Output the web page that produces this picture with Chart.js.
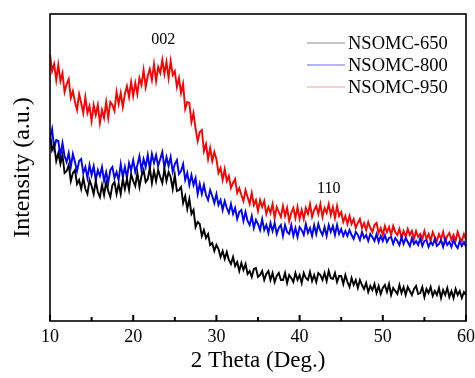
<!DOCTYPE html>
<html>
<head>
<meta charset="utf-8">
<script src="https://cdn.jsdelivr.net/npm/chart.js@4.4.0/dist/chart.umd.min.js"></script>
<style>
  body { margin: 0; background: #fff; }
  #chartWrapper { width: 475px; height: 378px; }
</style>
</head>
<body>
<div id="chartWrapper"><canvas id="chart"></canvas></div>
<script>
// series names, in legend order
const seriesNames = ['NSOMC-650', 'NSOMC-800', 'NSOMC-950'];
const seriesColors = ['#000000', '#0000ff', '#ff0000'];
const legendColors = ['#8c8c8c', '#6a6aee', '#f0a0a0'];

// 2 theta sampling, 10 -> 60 deg every 0.25 deg (201 points)
const thetaStart = 10;
const thetaStep = 0.25;

// intensities (arbitrary units)
const nsomc650 = [188,171,176,160, 168,157,166,148, 150,156,140,148, 151,137,141,132, 143,132,127,141, 135,127,140,129, 124,136,126,139, 130,124,136,139, 127,137,127,142, 132,142,131,147, 140,135,148,134, 145,151,139,142, 153,138,150,140, 151,144,138,152, 140,149,144,132, 146,130,131,134, 118,125,112,122, 107,111,94,99,
  97,85,91,83, 87,76,78,70, 76,72,64,70, 62,69,61,57, 64,55,59,50, 58,51,57,47, 50,44,52,53, 44,46,50,41, 47,50,41,48, 39,45,48,41, 41,48,38,46, 43,39,48,41, 46,38,48,43, 41,49,40,46, 39,48,46,41, 48,40,50,43, 42,48,39,45, 45,37,46,39, 34,43,36,41, 33,41,36,32, 38,29,35,31, 37,28,35,27, 33,36,29,37, 26,33,30,27, 36,28,34,26, 34,30,26,32, 35,27,28,34, 24,32,28,34, 25,30,26,33, 23,31,26,33, 24,30,23,32, 26,30,23,29, 26];

const nsomc800 = [183,192,173,181, 180,165,178,165, 159,168,154,167, 159,150,160,162, 148,154,143,156, 146,155,141,151, 145,154,140,149, 138,151,154,143, 149,141,157,144, 154,143,158,151, 161,149,156,165, 151,162,154,166, 152,167,158,166, 155,162,169,153, 164,155,164,149, 157,161,147,150, 157,141,148,136, 146,136,143,127,
  137,127,136,126, 121,131,125,118, 127,116,121,111, 120,113,108,117, 107,113,102,109, 111,100,109,100, 96,105,93,101, 97,91,102,91, 96,88,98,90, 98,87,93,96, 85,96,89,87, 96,85,93,84, 94,91,86,97, 88,93,85,96, 87,97,90,86, 94,85,96,89, 95,86,96,87,
  92,85,90,85, 91,86,82,89, 86,81,89,83, 86,80,87,84, 80,87,79,85, 80,86,79,83, 84,77,83,80, 76,84,77,83, 79,75,83,77, 80,76,83,75, 80,81,74,79, 76,82,75,77, 81,74,82,76, 79,74,81,76, 73,80,75,79, 74];

const nsomc950 = [267,250,257,241, 256,240,248,229, 237,242,223,230, 219,211,227,218, 208,224,208,215, 200,216,206,216, 198,211,203,219, 203,219,216,210, 229,217,228,214, 227,235,224,239, 225,238,227,243, 236,251,234,245, 252,241,257,240, 254,248,261,247, 259,243,260,246, 250,234,243,228, 237,212,219,218, 199,208,192,180, 189,191,170,177, 162,173,160,169,
  162,148,153,141, 152,140,145,133, 138,142,128,133, 126,120,131,124, 117,128,116,121, 110,121,114,120, 107,114,108,117, 103,114,109,104, 115,105,113,100, 108,113,103,114, 102,111,102,113, 107,117,104,111, 115,107,117,104, 113,108,117,106, 114,103,115,105,
  109,99,105,97, 105,97,102,93, 98,102,93,98, 91,99,93,89, 96,98,88,93, 86,95,89,94, 86,95,89,86, 92,83,90,84, 92,86,90,82, 90,84,87,82, 90,82,87,80, 89,84,80,87, 82,89,79,85, 88,81,86,80, 89,83,80,87, 81];

// peak labels
const peakLabels = ['002', '110'];
const peakTheta = [23.6, 43.5];
const peakLevel = [281, 132];

const xTicks = [10, 20, 30, 40, 50, 60];
const xMinorTicks = [15, 25, 35, 45, 55];

const serif = "'Liberation Serif', 'Times New Roman', serif";

function toPoints(values) {
  return values.map(function(v, i) {
    return { x: thetaStart + i * thetaStep, y: v };
  });
}

// frame, inward ticks, peak labels and legend
const decorations = {
  id: 'decorations',
  afterDatasetsDraw(chart) {
    const c = chart.ctx;
    const area = chart.chartArea;
    const xs = chart.scales.x;
    const ys = chart.scales.y;
    c.save();
    c.strokeStyle = '#000';
    c.lineWidth = 1.6;
    c.strokeRect(area.left, area.top, area.right - area.left, area.bottom - area.top);

    c.lineWidth = 2;
    xTicks.forEach(function(t) {
      const px = xs.getPixelForValue(t);
      c.beginPath(); c.moveTo(px, area.bottom); c.lineTo(px, area.bottom - 6); c.stroke();
    });
    xMinorTicks.forEach(function(t) {
      const px = xs.getPixelForValue(t);
      c.beginPath(); c.moveTo(px, area.bottom); c.lineTo(px, area.bottom - 4); c.stroke();
    });

    c.fillStyle = '#000';
    c.font = '16px ' + serif;
    c.textAlign = 'center';
    c.textBaseline = 'middle';
    peakLabels.forEach(function(lbl, i) {
      c.fillText(lbl, xs.getPixelForValue(peakTheta[i]), ys.getPixelForValue(peakLevel[i]));
    });

    // legend, top right inside the plot
    c.font = '18.5px ' + serif;
    c.textAlign = 'left';
    seriesNames.forEach(function(name, i) {
      const y = area.top + 29 + i * 22;
      c.strokeStyle = legendColors[i];
      c.lineWidth = 1;
      c.beginPath(); c.moveTo(307, y); c.lineTo(345, y); c.stroke();
      c.fillStyle = '#000';
      c.fillText(name, 348, y + 1);
    });
    c.restore();
  }
};

document.addEventListener('DOMContentLoaded', function() {
  const ctx = document.getElementById('chart').getContext('2d');
  const datasets = [nsomc650, nsomc800, nsomc950].map(function(vals, i) {
    return {
      label: seriesNames[i],
      data: toPoints(vals),
      borderColor: seriesColors[i],
      borderWidth: 1.9,
      pointRadius: 0,
      fill: false,
      tension: 0
    };
  });

  new Chart(ctx, {
    type: 'line',
    data: { datasets: datasets },
    options: {
      responsive: true,
      maintainAspectRatio: false,
      animation: false,
      layout: { padding: { top: 14, right: 9, left: 0, bottom: 0 } },
      plugins: { legend: { display: false }, tooltip: { enabled: false } },
      scales: {
        x: {
          type: 'linear',
          min: 10,
          max: 60,
          grid: { display: false, drawTicks: false },
          border: { display: false },
          ticks: {
            stepSize: 10,
            padding: 5,
            color: '#000',
            font: { family: serif, size: 18 }
          },
          title: {
            display: true,
            text: '2 Theta (Deg.)',
            color: '#000',
            font: { family: serif, size: 23 },
            padding: { top: 0, bottom: 3 }
          },
          afterFit: function(scale) {
            scale.height = 57;
            // let the "60" label hang past the frame, as in the original
            scale.paddingRight = 0;
          }
        },
        y: {
          min: 0,
          max: 307,
          grid: { display: false, drawTicks: false },
          border: { display: false },
          ticks: { display: false },
          title: {
            display: true,
            text: 'Intensity (a.u.)',
            color: '#000',
            font: { family: serif, size: 24 },
            padding: { top: 8, bottom: 0 }
          },
          afterFit: function(scale) { scale.width = 50; }
        }
      }
    },
    plugins: [decorations]
  });
});
</script>
</body>
</html>
